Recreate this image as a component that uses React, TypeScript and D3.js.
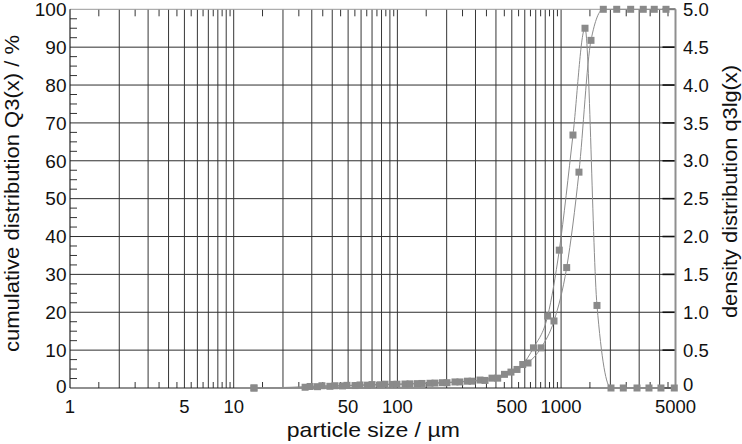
import React from "react";
import * as d3 from "d3";

// ---- data ----
const densitySize = [13.3, 29.3, 34.6, 41.6, 49.2, 59.1, 70.0, 84.0, 99.4, 119.4, 141.3, 169.7, 201, 241, 286, 343, 410, 494, 583, 678, 828, 975, 1182, 1400, 1657, 2018, 2399, 2910, 3443, 4075, 4915];
const densityValue = [0, 0.02, 0.03, 0.03, 0.035, 0.04, 0.045, 0.05, 0.05, 0.055, 0.06, 0.065, 0.07, 0.08, 0.09, 0.1, 0.13, 0.21, 0.31, 0.53, 0.95, 1.82, 3.34, 4.75, 1.09, 0, 0, 0, 0, 0, 0];

const cumulativeSize = [13.3, 27.3, 32.5, 38.7, 46.2, 55.1, 65.7, 78.3, 93.3, 111.3, 132.7, 158.2, 188.6, 224.8, 268, 319.6, 378.4, 451, 538, 628, 754, 905, 1082, 1286, 1523, 1811, 2187, 2661, 3177, 3709, 4374];
const cumulativeValue = [0, 0.2, 0.35, 0.45, 0.55, 0.65, 0.75, 0.85, 0.95, 1.05, 1.15, 1.25, 1.4, 1.6, 1.8, 2.1, 2.6, 3.6, 4.9, 6.6, 10.6, 17.7, 31.8, 57.0, 91.8, 100, 100, 100, 100, 100, 100];

const xTickLabels = [1, 5, 10, 50, 100, 500, 1000, 5000];
const leftTicks = [0, 10, 20, 30, 40, 50, 60, 70, 80, 90, 100];
const rightTicks = [0, 0.5, 1.0, 1.5, 2.0, 2.5, 3.0, 3.5, 4.0, 4.5, 5.0];

const W = 742;
const H = 444;
const L = 70;
const R = 675.5;
const T = 9.3;
const B = 388;

const FONT = "'Liberation Sans', Arial, Helvetica, sans-serif";

export default function App() {
  const x = d3.scaleLog().domain([1, 5000]).range([L, R]);
  const yL = d3.scaleLinear().domain([0, 100]).range([B, T]);
  const yR = d3.scaleLinear().domain([0, 5]).range([B, T]);

  const gridX = x.ticks().filter((v) => v > 1 && v < 5000);
  const halfX: number[] = [];
  [1, 10, 100, 1000].forEach((d) => {
    for (let k = 1; k <= 9; k++) {
      const v = (k + 0.5) * d;
      if (v < 5000) halfX.push(v);
    }
  });
  const leftMinor = d3.range(0, 100.01, 2.5).filter((v) => v % 10 !== 0);

  const cumPts: [number, number][] = cumulativeSize.map((s, i) => [x(s), yL(cumulativeValue[i])]);
  const denPts: [number, number][] = densitySize.map((s, i) => [x(s), yR(densityValue[i])]);
  const line = d3.line().curve(d3.curveMonotoneX);

  const markerColor = "#8a8a8a";
  const ms = 7;

  return (
    <svg width={W} height={H} style={{ position: "absolute", left: 0, top: 0, background: "#fff" }}>
      <rect x={0} y={0} width={W} height={H} fill="#fff" />
      {/* horizontal gridlines */}
      {leftTicks.filter((v) => v > 0 && v < 100).map((v) => (
        <line key={"h" + v} x1={L} x2={R} y1={yL(v)} y2={yL(v)} stroke="#2e2e2e" strokeWidth={1} />
      ))}
      {/* vertical gridlines */}
      {gridX.map((v) => (
        <line key={"v" + v} x1={x(v)} x2={x(v)} y1={T} y2={B} stroke="#363636" strokeWidth={1} />
      ))}
      {/* half-step ticks top & bottom */}
      {halfX.map((v) => (
        <g key={"hx" + v}>
          <line x1={x(v)} x2={x(v)} y1={B} y2={B - 6} stroke="#333" strokeWidth={1} />
          <line x1={x(v)} x2={x(v)} y1={T} y2={T + 7} stroke="#333" strokeWidth={1} />
        </g>
      ))}
      {/* left minor ticks */}
      {leftMinor.map((v) => (
        <line key={"lm" + v} x1={L} x2={L + 7} y1={yL(v)} y2={yL(v)} stroke="#333" strokeWidth={1} />
      ))}
      {/* right major ticks */}
      {rightTicks.map((v) => (
        <line key={"rt" + v} x1={R - 13} x2={R} y1={yR(v)} y2={yR(v)} stroke="#111" strokeWidth={1.6} />
      ))}
      {/* frame */}
      <line x1={L} x2={R} y1={T} y2={T} stroke="#999" strokeWidth={1} />
      <line x1={R} x2={R} y1={T} y2={B} stroke="#8f8f8f" strokeWidth={2} />
      <line x1={L} x2={L} y1={T} y2={B} stroke="#222" strokeWidth={1.2} />
      <line x1={L} x2={R} y1={B} y2={B} stroke="#222" strokeWidth={1.2} />

      {/* series lines */}
      <path d={line(cumPts) || ""} fill="none" stroke="#8c8c8c" strokeWidth={1} />
      <path d={line(denPts) || ""} fill="none" stroke="#8c8c8c" strokeWidth={1} />
      {/* markers */}
      {cumPts.map((p, i) => (
        <rect key={"c" + i} x={p[0] - ms / 2} y={p[1] - ms / 2} width={ms} height={ms} fill={markerColor} />
      ))}
      {denPts.map((p, i) => (
        <rect key={"d" + i} x={p[0] - ms / 2} y={p[1] - ms / 2} width={ms} height={ms} fill={markerColor} />
      ))}

      {/* tick labels */}
      {leftTicks.map((v) => (
        <text key={"ll" + v} x={66.5} y={yL(v) - (v === 0 ? 2 : 0)} dy="0.36em" textAnchor="end" fontFamily={FONT} fontSize={19} fill="#111">
          {v}
        </text>
      ))}
      {rightTicks.map((v) => (
        <text key={"rl" + v} x={683} y={yR(v) - (v === 0 ? 4 : 0)} dy="0.36em" textAnchor="start" fontFamily={FONT} fontSize={18.5} fill="#111">
          {v === 0 ? "0" : v.toFixed(1)}
        </text>
      ))}
      {xTickLabels.map((v) => (
        <text key={"xl" + v} x={x(v)} y={412.5} textAnchor="middle" fontFamily={FONT} fontSize={18.5} fill="#111">
          {v}
        </text>
      ))}

      {/* axis titles */}
      <text x={373.3} y={437} textAnchor="middle" fontFamily={FONT} fontSize={21} fill="#111" textLength={173} lengthAdjust="spacingAndGlyphs">
        particle size / µm
      </text>
      <text transform="translate(19,193.5) rotate(-90)" textAnchor="middle" fontFamily={FONT} fontSize={21} fill="#111" textLength={317} lengthAdjust="spacingAndGlyphs">
        cumulative distribution Q3(x) / %
      </text>
      <text transform="translate(737,191.5) rotate(-90)" textAnchor="middle" fontFamily={FONT} fontSize={21} fill="#111" textLength={253} lengthAdjust="spacingAndGlyphs">
        density distribution q3lg(x)
      </text>
    </svg>
  );
}
